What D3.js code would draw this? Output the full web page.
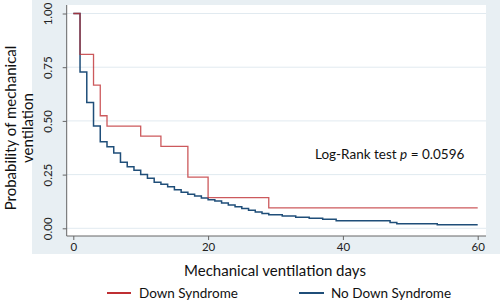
<!DOCTYPE html>
<html><head><meta charset="utf-8">
<script src="https://cdn.jsdelivr.net/npm/d3@7"></script>
<style>body{margin:0;background:#fff}svg{display:block;font-family:Lato,"Open Sans",sans-serif}</style>
</head><body><svg id="c" width="500" height="303"></svg>
<script>
const dsDays = [0,1,3,4,5,10,13,17,20,29];
const dsSurv = [1.000,0.810,0.667,0.524,0.476,0.429,0.381,0.238,0.143,0.095];
const noDsDays = [0,1,2,3,4,5,6,7,8,9,10,11,12,13,14,15,16,17,18,19,20,21,22,23,24,25,26,27,28,29,31,33,35,37,39,47,48,54];
const noDsSurv = [1.000,0.728,0.586,0.476,0.403,0.380,0.350,0.307,0.287,0.270,0.251,0.233,0.214,0.205,0.194,0.179,0.168,0.158,0.150,0.141,0.133,0.127,0.118,0.108,0.100,0.092,0.084,0.076,0.069,0.063,0.057,0.052,0.047,0.042,0.035,0.027,0.021,0.017];
const endDay = 60;
const yTicks = [0,0.25,0.5,0.75,1];
const xTicks = [0,20,40,60];
const seriesNames = ["Down Syndrome","No Down Syndrome"];
const colors = ["#bf2f33","#1f4e79"];

const svg = d3.select("#c");
const x = d3.scaleLinear().domain([0,60]).range([73.3,477.7]);
const y = d3.scaleLinear().domain([0,1]).range([228.3,13.5]);

svg.append("rect").attr("x",32).attr("y",0).attr("width",468).attr("height",254).attr("fill","#e8eff3");
svg.append("rect").attr("x",67).attr("y",5).attr("width",419).attr("height",231).attr("fill","#fff");

// gridlines
svg.append("g").selectAll("line").data(yTicks).join("line")
  .attr("x1",67).attr("x2",486).attr("y1",d=>y(d)).attr("y2",d=>y(d))
  .attr("stroke","#e1eaf0").attr("stroke-width",1);

// axes
const yAxis = svg.append("g").attr("transform","translate(66.7,0)")
  .call(d3.axisLeft(y).tickValues(yTicks).tickFormat(d3.format(".2f")).tickSize(4).tickPadding(10));
yAxis.select(".domain").attr("d","M0,5V236").attr("stroke","#666");
yAxis.selectAll(".tick line").attr("stroke","#666");
yAxis.selectAll(".tick text").attr("transform","rotate(-90)").attr("text-anchor","middle")
  .attr("x",0).attr("y",-15).attr("dy","0").attr("font-size",11.5).attr("fill","#222")
  .attr("font-family","Lato,'Open Sans',sans-serif");

const xAxis = svg.append("g").attr("transform","translate(0,236)")
  .call(d3.axisBottom(x).tickValues(xTicks).tickSize(4).tickPadding(3));
xAxis.select(".domain").attr("d","M66.7,0H486").attr("stroke","#666");
xAxis.selectAll(".tick line").attr("stroke","#666");
xAxis.selectAll(".tick text").attr("font-size",11.5).attr("fill","#222")
  .attr("font-family","Lato,'Open Sans',sans-serif");

// curves
const line = d3.line().x(d=>x(d[0])).y(d=>y(d[1])).curve(d3.curveStepAfter);
function pts(days, surv){ const p = days.map((d,i)=>[d,surv[i]]); p.push([endDay, surv[surv.length-1]]); return p; }
svg.append("path").datum(pts(noDsDays,noDsSurv)).attr("d",line).attr("fill","none").attr("stroke",colors[1]).attr("stroke-width",1.5);
svg.append("path").datum(pts(dsDays,dsSurv)).attr("d",line).attr("fill","none").attr("stroke",colors[0]).attr("stroke-width",1.3).attr("opacity",0.8);

// annotation
const ann = svg.append("text").attr("x",315).attr("y",159).attr("font-size",13.5).attr("fill","#111");
ann.append("tspan").text("Log-Rank test ");
ann.append("tspan").attr("font-style","italic").text("p");
ann.append("tspan").text(" = 0.0596");

// axis titles
svg.append("text").attr("transform","translate(15.5,128) rotate(-90)").attr("text-anchor","middle")
  .attr("font-size",15).attr("fill","#111").text("Probability of mechanical");
svg.append("text").attr("transform","translate(33,128) rotate(-90)").attr("text-anchor","middle")
  .attr("font-size",15).attr("fill","#111").text("ventilation");
svg.append("text").attr("x",275).attr("y",276).attr("text-anchor","middle")
  .attr("font-size",15).attr("fill","#111").text("Mechanical ventilation days");

// legend
const leg = [{x1:107,x2:131,tx:139},{x1:299,x2:324,tx:331}];
leg.forEach((l,i)=>{
  svg.append("line").attr("x1",l.x1).attr("x2",l.x2).attr("y1",293).attr("y2",293).attr("stroke",colors[i]).attr("stroke-width",2);
  svg.append("text").attr("x",l.tx).attr("y",297.5).attr("font-size",13.5).attr("fill","#111").text(seriesNames[i]);
});
</script></body></html>
